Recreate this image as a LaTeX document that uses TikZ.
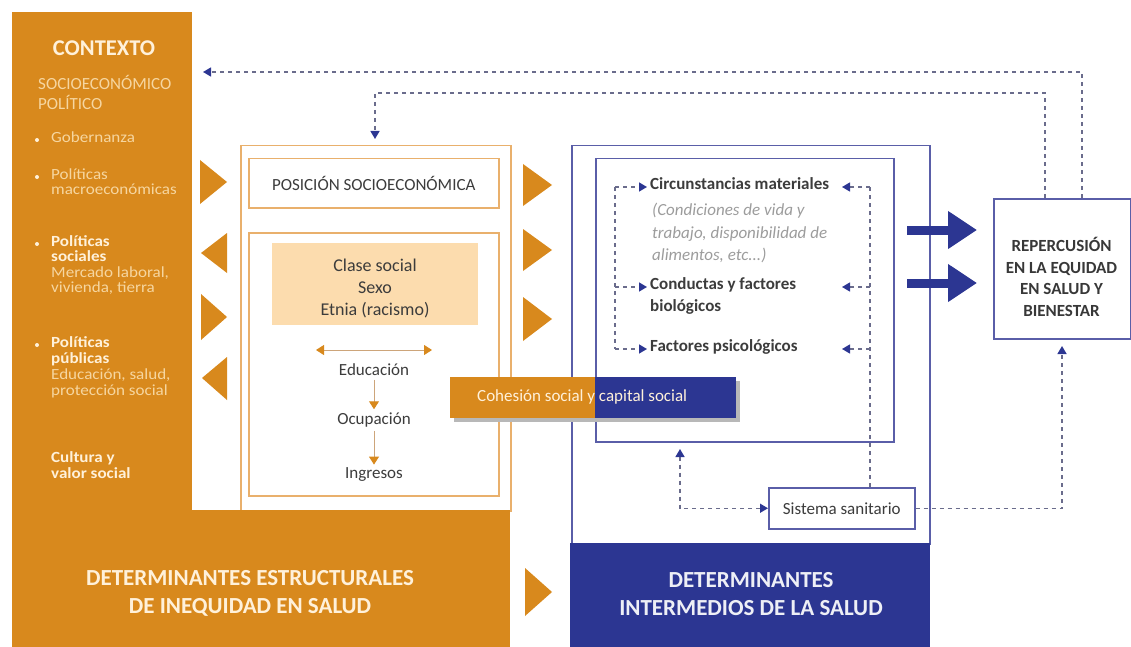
\documentclass[tikz,border=0pt]{standalone}
\usepackage{fontspec}
\setmainfont{Carlito}
\newfontfamily\widefam[FakeStretch=1.1]{Carlito}
\usetikzlibrary{arrows.meta}
\definecolor{org}{HTML}{D8891D}
\definecolor{navy}{HTML}{2C3692}
\definecolor{cream}{HTML}{F6D6A0}
\definecolor{creamb}{HTML}{FFF1DA}
\definecolor{peach}{HTML}{FCDCAE}
\definecolor{oline}{HTML}{E9B06C}
\definecolor{bline}{HTML}{5A5EA8}
\definecolor{dashc}{HTML}{6A6C8C}
\definecolor{txt}{HTML}{3C3C3C}
\definecolor{itx}{HTML}{9C9C9C}
\definecolor{tan}{HTML}{CDA57A}
\newcommand\fsz[2]{\fontsize{#1}{#2}\selectfont}
\begin{document}
\begin{tikzpicture}[x=1pt,y=-1pt,
  fillbox/.style={inner sep=0pt, anchor=north west, draw=none},
  obox/.style={draw=oline, line width=1.5pt, anchor=north west, inner sep=0pt},
  bbox/.style={draw=bline, line width=1.5pt, anchor=north west, inner sep=0pt},
  ctl/.style={anchor=west, inner sep=0pt, text height=.58em, text depth=.14em, text=cream, font=\widefam\fsz{15.5}{16}},
  ctb/.style={ctl, text=creamb, font=\widefam\fsz{15.5}{16}\bfseries},
  row/.style={anchor=west, inner sep=3pt, text height=.7em, text depth=.2em, text=txt, font=\fsz{17}{20}\bfseries},
  irow/.style={anchor=west, inner sep=0pt, text height=.7em, text depth=.2em, text=itx, font=\fsz{17}{20}\itshape},
  lbl/.style={text=txt, font=\fsz{17}{20}},
  dsh/.style={draw=dashc, line width=1.4pt, dash pattern=on 4pt off 4pt},
  tip/.tip={Triangle[length=8pt,width=9pt,color=navy]},
  otip/.tip={Triangle[length=8pt,width=10pt,color=org]},
  oarr/.style={draw=tan, line width=1pt},
  fat/.style={draw=navy, line width=9pt, -{Triangle[length=29pt,width=36pt]}, shorten >=16pt},
  bigl/.style={font=\fsz{23}{28}\bfseries, align=center}
]
\useasboundingbox (0,0) rectangle (1131,647);

% ---------- orange structural block ----------
\node[fillbox, fill=org, minimum width=180pt, minimum height=499pt] (ctx) at (12,12) {};
\node[obox, fill=white, minimum width=270pt, minimum height=365pt] (socpos) at (240,145) {};
\node[fillbox, fill=org, minimum width=498pt, minimum height=137pt] (est) at (12,510) {};

\node[font=\fsz{22.5}{24}\bfseries, text=creamb] (ctxh) at (104,48) {CONTEXTO};
\node[ctl, font=\fsz{17}{18}] (s1) at (38,87) {SOCIOECONÓMICO};
\node[ctl, font=\fsz{17}{18}] (s2) at (38,107) {POLÍTICO};

\fill[creamb] (37,140) circle (2);
\node[ctl] (g1) at (51,140) {Gobernanza};
\fill[creamb] (37,177) circle (2);
\node[ctl] (m1) at (51,177) {Políticas};
\node[ctl] (m2) at (51,192.5) {macroeconómicas};
\fill[creamb] (37,244) circle (2);
\node[ctb] (p1) at (51,244) {Políticas};
\node[ctb] (p2) at (51,259.5) {sociales};
\node[ctl] (p3) at (51,275) {Mercado laboral,};
\node[ctl] (p4) at (51,290.5) {vivienda, tierra};
\fill[creamb] (37,345) circle (2);
\node[ctb] (q1) at (51,345) {Políticas};
\node[ctb] (q2) at (51,361) {públicas};
\node[ctl] (q3) at (51,377) {Educación, salud,};
\node[ctl] (q4) at (51,393) {protección social};
\node[ctb] (c1) at (51,460) {Cultura y};
\node[ctb] (c2) at (51,476) {valor social};

\node[bigl, text=creamb] (estt) at (250,593) {DETERMINANTES ESTRUCTURALES\\DE INEQUIDAD EN SALUD};

% orange triangles between context and position
\fill[org] (200,160) -- (227,182) -- (200,204) -- cycle;
\fill[org] (227,233) -- (201,253) -- (227,273) -- cycle;
\fill[org] (201,294) -- (227,317) -- (201,340) -- cycle;
\fill[org] (227,357) -- (202,378) -- (227,400) -- cycle;
% orange triangles toward intermediate
\fill[org] (523,164) -- (552,185) -- (523,206) -- cycle;
\fill[org] (523,229) -- (552,250) -- (523,271) -- cycle;
\fill[org] (523,297) -- (552,319) -- (523,341) -- cycle;
\fill[org] (525,568) -- (552,592) -- (525,616) -- cycle;

% position boxes
\node[obox, minimum width=250pt, minimum height=49pt, lbl] (psbox) at (248,158) {POSICIÓN SOCIOECONÓMICA};
\node[obox, minimum width=250pt, minimum height=263pt] (ps2) at (248,232) {};
\node[fillbox, fill=peach, minimum width=206pt, minimum height=82pt] (peach) at (272,243) {};
\node[lbl, font=\fsz{18}{22}, align=center] (clase) at (375,288) {Clase social\\Sexo\\Etnia (racismo)};

\coordinate (da1) at (316,350);
\coordinate (da2) at (432,350);
\draw[oarr, {otip}-{otip}] (da1) -- (da2);
\node[lbl] (edu) at (374,370) {Educación};
\node[lbl] (ocu) at (374,420) {Ocupación};
\node[lbl] (ing) at (374,475) {Ingresos};
\draw[oarr, -{otip}] (edu) -- (ocu);
\draw[oarr, -{otip}] (ocu) -- (ing);

% ---------- intermediate block ----------
\node[bbox, minimum width=358pt, minimum height=398pt] (intbox) at (571,145) {};
\node[fillbox, fill=navy, minimum width=359.5pt, minimum height=105pt] (intlbl) at (570.25,543) {};
\node[bigl, text=white!92!navy] (intt) at (751,594) {DETERMINANTES\\INTERMEDIOS DE LA SALUD};

\node[bbox, minimum width=298pt, minimum height=283pt] (intin) at (595,158) {};

\node[row] (circ) at (647,187) {Circunstancias materiales};
\node[irow] (d1) at (652,213) {(Condiciones de vida y};
\node[irow] (d2) at (652,236) {trabajo, disponibilidad de};
\node[irow] (d3) at (652,258) {alimentos, etc...)};
\node[row] (cond) at (647,287) {Conductas y factores};
\node[row] (bio) at (647,309) {biológicos};
\node[row] (psi) at (647,349) {Factores psicológicos};

\node[bbox, fill=white, minimum width=146pt, minimum height=41pt, lbl] (sis) at (768,487) {Sistema sanitario};

\coordinate (lx) at (615,0);
\coordinate (rx) at (870,0);
\coordinate (rt) at (842,0);
\draw[dsh] (lx |- circ.west) -- (lx |- psi.west);
\foreach \n in {circ,cond,psi} \draw[dsh, -{tip}] (lx |- \n.west) -- (\n.west);
\draw[dsh] (rx |- circ.west) -- (rx |- sis.north);
\foreach \n in {circ,cond,psi} \draw[dsh, -{tip}] (rx |- \n.west) -- (rt |- \n.west);

\coordinate (bt) at (680,449);
\draw[dsh, {tip}-{tip}] (bt) |- (sis.west);

% cohesion social
\fill[black!28] (454,381) rectangle (740,422);
\fill[org] (450,377) rectangle (595,418);
\fill[navy] (595,377) rectangle (736,418);
\node[anchor=west, inner sep=0pt, text=creamb, font=\fsz{17}{20}] (coh) at (477,397) {Cohesión social y capital social};

% ---------- repercussion ----------
\node[bbox, minimum width=137pt, minimum height=140pt] (rep) at (993,198) {};
\node[font=\fsz{17}{21.5}\bfseries, align=center, text=black!78] (reptxt) at (1061.5,277) {REPERCUSIÓN\\EN LA EQUIDAD\\EN SALUD Y\\BIENESTAR};

\coordinate (a1) at (907,230);
\coordinate (a2) at (907,283);
\draw[fat] (a1) -- (a1 -| rep.west);
\draw[fat] (a2) -- (a2 -| rep.west);

\coordinate (rb) at (1062,346);
\draw[dsh, -{tip}] (sis.east) -| (rb);

\coordinate (t1) at (1082,72);
\coordinate (t1e) at (203,72);
\draw[dsh, -{tip}] (rep.north -| t1) -- (t1) -- (t1e);
\coordinate (t2) at (1045,93);
\coordinate (t2e) at (375,139);
\draw[dsh, -{tip}] (rep.north -| t2) -- (t2) -| (t2e);
\end{tikzpicture}
\end{document}
